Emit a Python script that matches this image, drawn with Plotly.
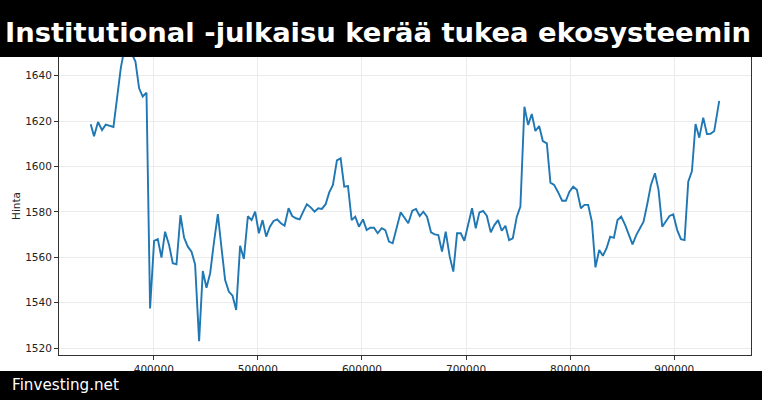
import plotly.graph_objects as go

# ---- data ----
x_vals = [339425, 342600, 346450, 350300, 353850, 357700, 361250, 364700, 368300, 371850,
          375300, 378850, 382400, 385900, 389400, 393000, 396450, 400300, 403850, 407400,
          410850, 414700, 418250, 421800, 425650, 429150, 432700, 436250, 439700, 443550,
          447100, 450650, 454150, 457700, 461550, 465100, 468550, 472100, 475650, 479150,
          482950, 486550, 490400, 493950, 497400, 500950, 504500, 508000, 511550, 515100,
          518550, 522100, 525650, 529500, 532950, 536550, 540100, 543550, 547100, 550950,
          554500, 557950, 561500, 565100, 568550, 572100, 575950, 579500, 582950, 586550,
          590100, 593550, 597100, 600950, 604500, 607950, 611550, 615100, 618950, 622400,
          625950, 629500, 632950, 637200, 640650, 644500, 648350, 651900, 655450, 658950,
          662500, 666350, 669900, 673350, 676900, 680450, 684300, 687750, 691350, 694900,
          698350, 702200, 705750, 709300, 712800, 716350, 719900, 723750, 727200, 730750,
          734300, 737800, 741350, 744900, 748750, 752200, 756050, 759600, 763150, 766600,
          770200, 773750, 777600, 781050, 784600, 788150, 792300, 795850, 799300, 802900,
          806450, 810300, 813750, 817300, 820850, 824300, 827900, 831450, 834900, 838450,
          842000, 845500, 849050, 852900, 856450, 859900, 863500, 867000, 870500, 874050,
          877600, 881450, 884900, 888450, 892000, 895450, 899050, 902850, 906400, 909900,
          913450, 917000, 920450, 924050, 927850, 931400, 934850, 938400, 943200]

prices = [1618.6, 1613.3, 1619.6, 1616.0, 1618.4, 1617.8, 1617.4, 1630.0, 1643.3, 1652.0,
          1655.0, 1649.6, 1646.2, 1634.4, 1630.8, 1632.5, 1537.5, 1567.2, 1568.0, 1559.9,
          1571.3, 1565.4, 1557.4, 1556.9, 1578.6, 1568.6, 1564.7, 1562.5, 1556.9, 1523.1,
          1554.0, 1546.6, 1553.0, 1566.2, 1579.0, 1564.0, 1550.0, 1544.9, 1543.1, 1536.8,
          1565.1, 1559.3, 1578.1, 1576.4, 1580.1, 1570.6, 1576.4, 1569.1, 1573.5, 1576.0,
          1576.7, 1575.0, 1573.9, 1581.6, 1578.2, 1577.2, 1576.7, 1580.1, 1583.4, 1581.9,
          1580.1, 1581.6, 1581.3, 1583.4, 1588.6, 1591.9, 1602.7, 1603.6, 1591.1, 1591.4,
          1576.4, 1577.9, 1573.5, 1576.7, 1572.0, 1573.0, 1573.0, 1570.6, 1572.8, 1572.0,
          1566.9, 1566.2, 1572.8, 1579.8, 1577.5, 1575.0, 1580.5, 1581.3, 1578.2, 1580.1,
          1577.9, 1571.0, 1570.1, 1569.8, 1562.5, 1571.3, 1560.3, 1553.7, 1570.6, 1570.6,
          1567.3, 1575.0, 1581.6, 1572.8, 1579.8, 1580.4, 1578.3, 1571.0, 1574.2, 1576.4,
          1571.7, 1573.9, 1567.6, 1568.4, 1577.9, 1582.3, 1626.3, 1618.3, 1623.1, 1615.6,
          1617.8, 1611.2, 1610.2, 1592.9, 1591.9, 1588.9, 1584.9, 1584.9, 1588.9, 1591.1,
          1589.7, 1581.6, 1583.1, 1583.1, 1575.7, 1555.6, 1563.2, 1560.7, 1563.9, 1569.1,
          1568.6, 1576.4, 1577.9, 1574.2, 1569.8, 1565.7, 1569.8, 1572.8, 1575.7, 1583.4,
          1591.9, 1597.0, 1589.7, 1573.5, 1576.0, 1578.2, 1578.9, 1572.0, 1568.0, 1567.6,
          1593.3, 1598.0, 1618.7, 1612.7, 1621.5, 1614.3, 1614.4, 1615.6, 1628.9]

x_ticks = [400000, 500000, 600000, 700000, 800000, 900000]
y_ticks = [1520, 1540, 1560, 1580, 1600, 1620, 1640]

title_text = "Institutional -julkaisu kerää tukea ekosysteemin"
footer_text = "Finvesting.net"
y_label = "Hinta"

# ---- geometry (pixels) ----
W, H = 762, 400
L, R, T, B = 59, 11, 57, 45
pw, ph = W - L - R, H - T - B


def px(p):
    return (p - L) / pw


def py(p):
    return (H - B - p) / ph


fig = go.Figure()
fig.add_trace(go.Scatter(x=x_vals, y=prices, mode="lines",
                         line=dict(color="#1f77b4", width=1.9),
                         hoverinfo="skip", showlegend=False))

axis_font = dict(family="DejaVu Sans", size=10.5, color="#222222")

fig.update_layout(
    width=W, height=H,
    margin=dict(l=L, r=R, t=T, b=B),
    paper_bgcolor="white", plot_bgcolor="white",
    showlegend=False,
    xaxis=dict(range=[308950, 973730], tickvals=x_ticks,
               ticktext=[str(v) for v in x_ticks],
               showgrid=True, gridcolor="#ebebeb", gridwidth=1,
               zeroline=False, showline=True, linecolor="#333333", linewidth=1,
               mirror=True, ticks="outside", ticklen=4, tickcolor="#333333",
               tickfont=axis_font),
    yaxis=dict(range=[1517.0, 1648.2], tickvals=y_ticks,
               showgrid=True, gridcolor="#ebebeb", gridwidth=1,
               zeroline=False, showline=True, linecolor="#333333", linewidth=1,
               mirror=True, ticks="outside", ticklen=4, tickcolor="#333333",
               tickfont=axis_font),
    shapes=[
        dict(type="rect", xref="paper", yref="paper", layer="above",
             x0=px(0), x1=px(W), y0=py(57), y1=py(0),
             fillcolor="black", line=dict(width=0)),
        dict(type="rect", xref="paper", yref="paper", layer="above",
             x0=px(0), x1=px(W), y0=py(H), y1=py(371),
             fillcolor="black", line=dict(width=0)),
    ],
    annotations=[
        dict(text=title_text, xref="paper", yref="paper",
             x=px(377.5), y=py(33), xanchor="center", yanchor="middle",
             showarrow=False,
             font=dict(family="DejaVu Sans", size=27.4, color="white", weight="bold")),
        dict(text=footer_text, xref="paper", yref="paper",
             x=px(10), y=py(385), xanchor="left", yanchor="middle",
             showarrow=False,
             font=dict(family="DejaVu Sans", size=15.2, color="white")),
        dict(text=y_label, xref="paper", yref="paper",
             x=px(16), y=0.5, xanchor="center", yanchor="middle",
             textangle=-90, showarrow=False,
             font=dict(family="DejaVu Sans", size=10.5, color="#222222")),
    ],
)

fig.write_html("out.html")
